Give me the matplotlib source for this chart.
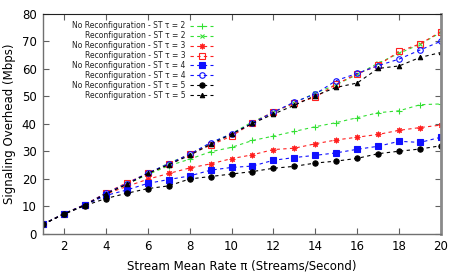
import matplotlib
matplotlib.use("Agg")
import matplotlib.pyplot as plt
import numpy as np

rate = list(range(1, 21))

norec_st2 = [3.5, 7.3, 10.6, 14.6, 18.2, 21.6, 24.8, 27.2, 29.9, 31.5, 34.0, 35.6, 37.3, 39.0, 40.5, 42.3, 44.1, 44.8, 47.0, 47.3]
rec_st2   = [3.5, 7.4, 10.6, 14.7, 18.4, 21.8, 25.8, 28.9, 33.0, 36.5, 40.8, 44.2, 47.8, 51.2, 54.3, 58.0, 62.1, 65.7, 69.0, 73.3]
norec_st3 = [3.5, 7.3, 10.5, 14.5, 17.3, 19.9, 22.0, 24.0, 25.5, 27.4, 28.8, 30.7, 31.2, 32.8, 34.2, 35.2, 36.2, 37.7, 38.7, 39.6]
rec_st3   = [3.5, 7.4, 10.7, 14.9, 18.6, 22.0, 25.3, 29.1, 32.3, 35.6, 40.3, 44.5, 47.5, 49.7, 54.5, 58.2, 61.3, 66.4, 69.1, 73.6]
norec_st4 = [3.5, 7.3, 10.5, 14.0, 16.0, 18.4, 19.8, 21.1, 23.2, 24.2, 24.7, 26.8, 27.8, 28.6, 29.5, 30.8, 31.9, 33.7, 33.3, 35.2]
rec_st4   = [3.5, 7.4, 10.6, 14.8, 18.3, 22.2, 25.5, 29.0, 33.2, 36.4, 40.3, 44.3, 48.0, 50.9, 55.8, 58.4, 61.2, 63.6, 66.9, 70.1]
norec_st5 = [3.5, 7.2, 10.3, 12.9, 14.8, 16.5, 17.5, 20.0, 20.9, 21.8, 22.7, 23.9, 24.6, 25.8, 26.5, 27.5, 29.2, 30.1, 30.9, 32.1]
rec_st5   = [3.5, 7.3, 10.5, 14.6, 18.0, 22.0, 25.2, 28.6, 32.6, 36.3, 40.2, 43.6, 46.8, 50.3, 53.3, 54.9, 60.2, 61.1, 64.2, 66.0]

labels = [
    "No Reconfiguration - ST τ = 2", "Reconfiguration - ST τ = 2",
    "No Reconfiguration - ST τ = 3", "Reconfiguration - ST τ = 3",
    "No Reconfiguration - ST τ = 4", "Reconfiguration - ST τ = 4",
    "No Reconfiguration - ST τ = 5", "Reconfiguration - ST τ = 5",
]
xticks = [2, 4, 6, 8, 10, 12, 14, 16, 18, 20]
yticks = [0, 10, 20, 30, 40, 50, 60, 70, 80]

series = [norec_st2, rec_st2, norec_st3, rec_st3, norec_st4, rec_st4, norec_st5, rec_st5]
green, red, blue, black = "#33e033", "#ff2020", "#1010ff", "#000000"
styles = [
    dict(color=green, marker="+", ms=4.5, mew=0.8),
    dict(color=green, marker="x", ms=3.5, mew=0.8),
    dict(color=red, marker=(8, 2, 0), ms=4, mew=0.8),
    dict(color=red, marker="s", ms=4, mfc="none", mew=0.8),
    dict(color=blue, marker="s", ms=3.8, mew=0.8),
    dict(color=blue, marker="o", ms=4, mfc="none", mew=0.8),
    dict(color=black, marker="o", ms=3.8, mew=0.8),
    dict(color=black, marker="^", ms=3.2, mew=0.8),
]

fig = plt.figure(figsize=(4.57, 2.74), dpi=100)
ax = fig.add_axes([0.094, 0.146, 0.871, 0.803])

for vals, lab, st in zip(series, labels, styles):
    ax.plot(rate, vals, linestyle=(0, (3, 3)), lw=0.8, label=lab, **st)

ax.set_xlim(1, 20)
ax.set_ylim(0, 80)
ax.set_xticks(xticks)
ax.set_yticks(yticks)
ax.tick_params(direction="in", top=True, right=True, length=4, width=0.8,
               labelsize=8.5, color="#606060", pad=4.5)
for s in ["left", "bottom"]:
    ax.spines[s].set_color("#707070")
    ax.spines[s].set_linewidth(1.0)
ax.spines["right"].set_color("#8a8a8a")
ax.spines["right"].set_linewidth(2.0)
ax.spines["top"].set_color("#202020")
ax.spines["top"].set_linewidth(0.8)

ax.set_xlabel("Stream Mean Rate π (Streams/Second)", fontsize=8.5, labelpad=4.5)
ax.set_ylabel("Signaling Overhead (Mbps)", fontsize=8.5, labelpad=4)

leg = ax.legend(loc="upper right", bbox_to_anchor=(0.435, 0.98), frameon=False,
                markerfirst=False, fontsize=5.5, labelspacing=0.12,
                handlelength=3.0, handletextpad=0.6, numpoints=1,
                borderaxespad=0.2, borderpad=0.2)
for t in leg.get_texts():
    t.set_color("#222222")

fig.savefig("out.png", dpi=100)
